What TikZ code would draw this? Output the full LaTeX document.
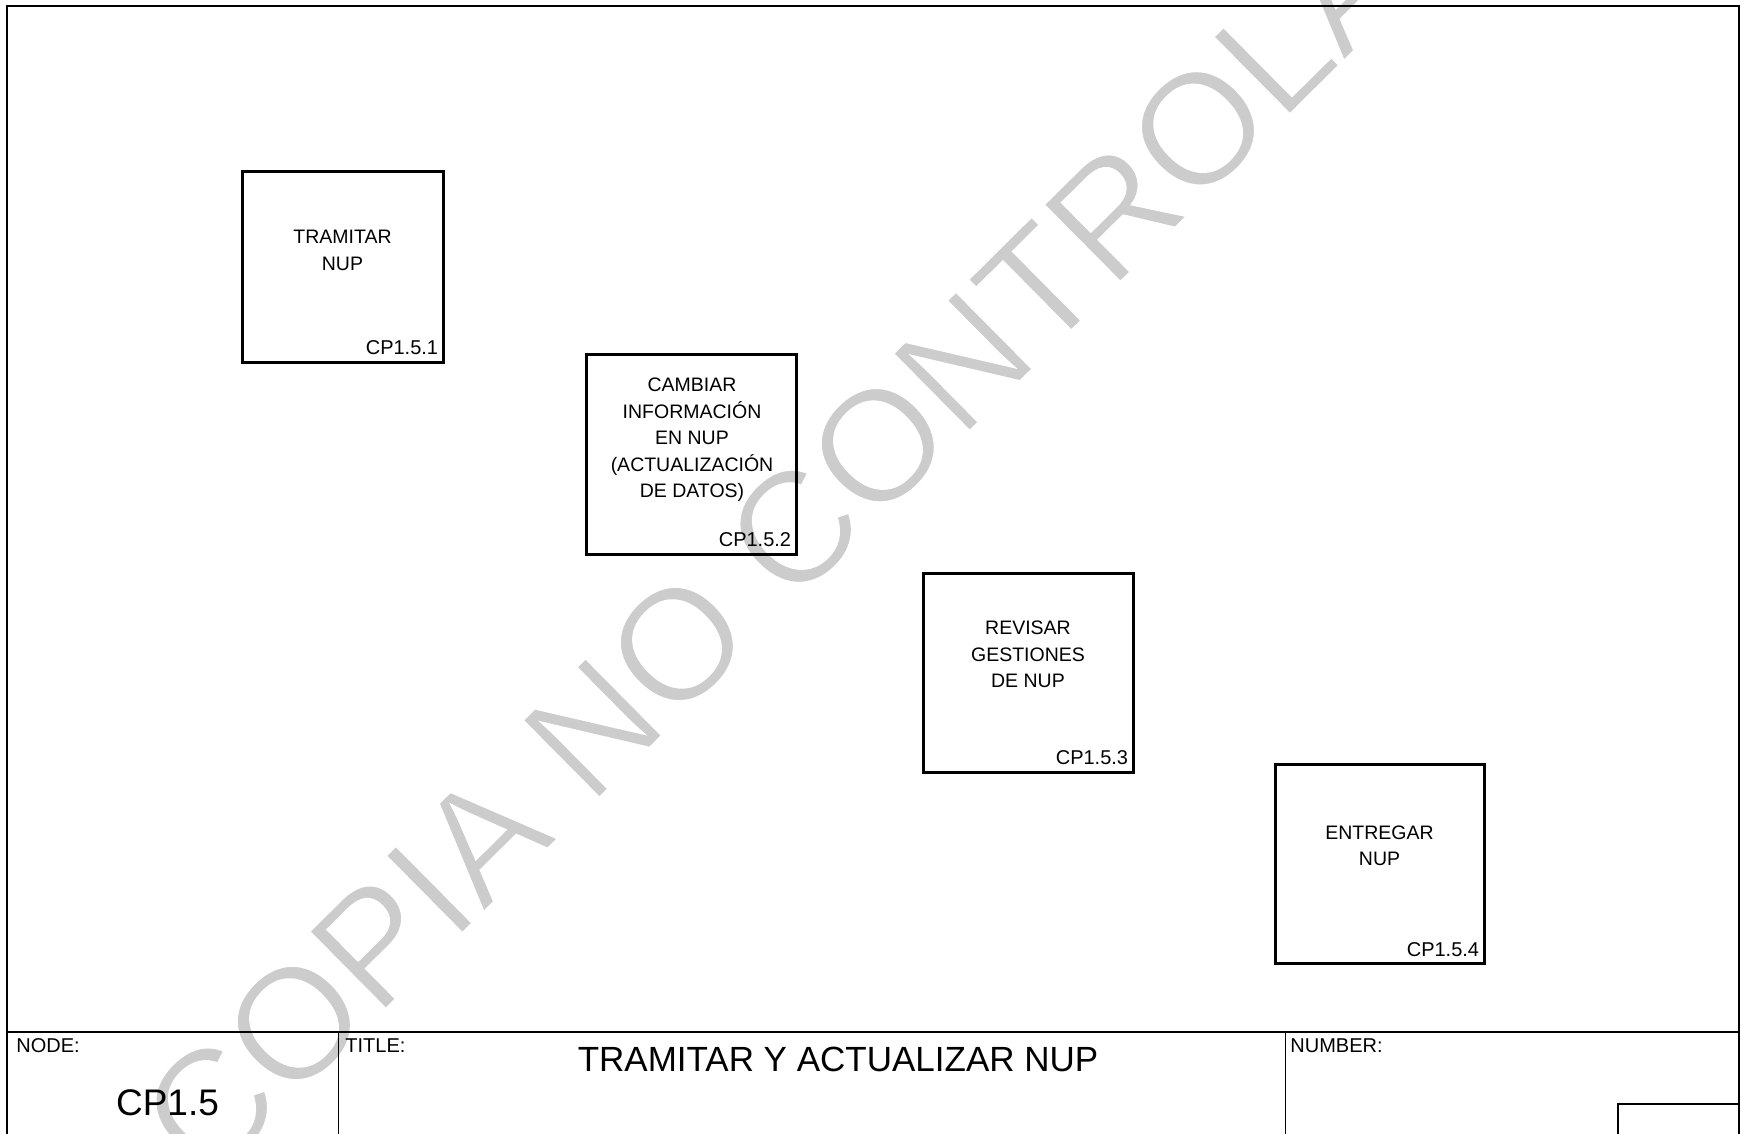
\documentclass[tikz,border=0pt]{standalone}
\usepackage{fontspec}
\setmainfont{Liberation Sans}
\usetikzlibrary{calc}
\newcommand{\thinstart}{\special{pdf:literal direct 2 Tr 1.3 w 1 G}}
\newcommand{\thinstop}{\special{pdf:literal direct 0 Tr}}
\tikzset{
  frameline/.style={line width=1.2pt},
  blockline/.style={line width=1pt},
  sepline/.style={line width=0.5pt},
  actbox/.style={draw, line width=1.5pt, inner sep=0pt},
  acttext/.style={anchor=north, align=center, inner sep=0pt, font=\fontsize{9.75}{13.3}\selectfont},
  actid/.style={anchor=base east, inner sep=0pt, font=\fontsize{10}{12}\selectfont},
  fieldname/.style={anchor=base west, inner sep=0pt, font=\fontsize{10}{12}\selectfont},
  watermark/.style={text=black!20, inner sep=0pt, font=\fontsize{79.5}{80}\selectfont}
}
\begin{document}
\begin{tikzpicture}[x=0.5pt, y=-0.5pt]
\useasboundingbox (0,0) rectangle (1741,1134);
\clip (0,0) rectangle (1741,1134);
\fill[white] (0,0) rectangle (1741,1134);

% watermark
\node[watermark, rotate=44.7] (wm) at (853,470) {\thinstart COPIA NO CONTROLADA\thinstop};

% frame and title block
\draw[frameline] (7,1140) -- (7,6) -- (1739,6) -- (1739,1140);
\coordinate (tbl) at (7,1032);
\coordinate (tbr) at (1739,1032);
\draw[blockline] (tbl) -- (tbr);
\coordinate (s1t) at (338,1032);
\coordinate (s1b) at (338,1140);
\coordinate (s2t) at (1285,1032);
\coordinate (s2b) at (1285,1140);
\draw[sepline] (s1t) -- (s1b);
\draw[sepline] (s2t) -- (s2b);
\coordinate (nb1) at (1618,1140);
\coordinate (nb2) at (1618,1104);
\coordinate (nb3) at (1739,1104);
\draw[blockline] (nb1) -- (nb2) -- (nb3);

\node[fieldname] (nodelbl) at (16,1052) {NODE:};
\node[fieldname] (titlelbl) at (345,1052) {TITLE:};
\node[fieldname] (numlbl) at (1290,1052) {NUMBER:};
\node[anchor=base, inner sep=0pt, font=\fontsize{18.5}{20}\selectfont] (nodeval) at (167.5,1115) {CP1.5};
\node[anchor=base, inner sep=0pt, font=\fontsize{17.5}{20}\selectfont] (titleval) at (838,1071) {TRAMITAR Y ACTUALIZAR NUP};

% activity boxes
\node[actbox, minimum width=100.5pt, minimum height=95.5pt] (b1) at (342.5,267.5) {};
\node[actbox, minimum width=105pt, minimum height=99.5pt] (b2) at (691,454.5) {};
\node[actbox, minimum width=105pt, minimum height=99.5pt] (b3) at (1028,672.5) {};
\node[actbox, minimum width=104.5pt, minimum height=99.5pt] (b4) at (1379.5,863.5) {};

\node[acttext] (t1) at (342.5,230) {TRAMITAR\\NUP};
\node[acttext] (t2) at (692,377.5) {CAMBIAR\\INFORMACIÓN\\EN NUP\\(ACTUALIZACIÓN\\DE DATOS)};
\node[acttext] (t3) at (1028,620.5) {REVISAR\\GESTIONES\\DE NUP};
\node[acttext] (t4) at (1379.5,825) {ENTREGAR\\NUP};

\node[actid] (l1) at ($(b1.south east)+(-6,-10)$) {CP1.5.1};
\node[actid] (l2) at ($(b2.south east)+(-6,-9)$) {CP1.5.2};
\node[actid] (l3) at ($(b3.south east)+(-6,-9.5)$) {CP1.5.3};
\node[actid] (l4) at ($(b4.south east)+(-6,-8.5)$) {CP1.5.4};
\end{tikzpicture}
\end{document}
